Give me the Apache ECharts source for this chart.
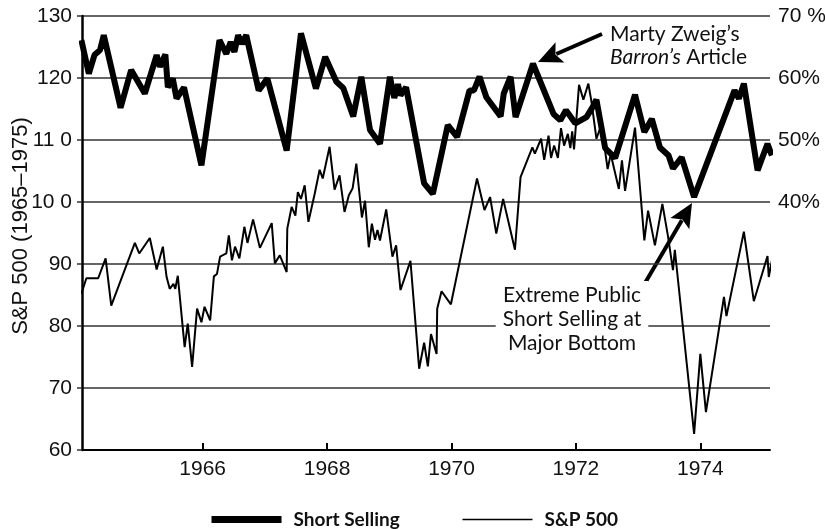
<!DOCTYPE html>
<html>
<head>
<meta charset="utf-8">
<script src="https://cdn.jsdelivr.net/npm/echarts@6/dist/echarts.min.js"></script>
<style>
  html, body { margin: 0; padding: 0; background: #fff; }
  #chart { width: 825px; height: 529px; }
</style>
</head>
<body>
<div id="chart"></div>
<script>
// short selling (right axis, %)
const shortYears = [1964.05, 1964.17, 1964.26, 1964.35, 1964.41, 1964.68, 1964.85, 1965.07, 1965.26, 1965.31,
  1965.40, 1965.44, 1965.52, 1965.58, 1965.70, 1965.98, 1966.27, 1966.38, 1966.45, 1966.51,
  1966.57, 1966.63, 1966.70, 1966.90, 1967.04, 1967.35, 1967.58, 1967.82, 1967.97, 1968.15,
  1968.26, 1968.42, 1968.55, 1968.69, 1968.85, 1969.01, 1969.08, 1969.14, 1969.18, 1969.27,
  1969.56, 1969.70, 1969.94, 1970.09, 1970.29, 1970.36, 1970.45, 1970.56, 1970.79, 1970.84,
  1970.95, 1971.03, 1971.31, 1971.64, 1971.75, 1971.84, 1971.99, 1972.17, 1972.28, 1972.33,
  1972.47, 1972.63, 1972.95, 1973.10, 1973.22, 1973.35, 1973.49, 1973.56, 1973.70, 1973.90,
  1974.55, 1974.62, 1974.70, 1974.92, 1975.08, 1975.15];
const shortPct = [66.1, 60.7, 63.7, 64.5, 66.9, 55.2, 61.3, 57.5, 63.7, 61.8,
  63.8, 58.5, 59.9, 56.7, 58.5, 45.9, 66.1, 63.9, 65.8, 64.2,
  66.9, 65.5, 66.9, 58.0, 59.9, 48.3, 67.2, 58.3, 63.4, 59.4,
  58.4, 53.8, 60.2, 51.6, 49.4, 60.2, 56.8, 59.0, 57.2, 58.5,
  43.0, 41.3, 52.4, 50.5, 58.0, 58.0, 60.2, 56.9, 53.8, 57.5,
  60.2, 53.7, 62.3, 54.2, 53.2, 54.8, 52.7, 53.7, 55.5, 56.5,
  48.7, 47.1, 57.3, 51.3, 53.4, 48.8, 47.5, 45.4, 47.2, 40.8,
  58.0, 56.7, 59.1, 45.1, 49.4, 47.5];

// S&P 500 (left axis)
const spxYears = [1964.05, 1964.13, 1964.32, 1964.44, 1964.53, 1964.91, 1964.98, 1965.15, 1965.26, 1965.36,
  1965.42, 1965.47, 1965.53, 1965.56, 1965.60, 1965.71, 1965.76, 1965.83, 1965.91, 1965.98,
  1966.03, 1966.12, 1966.18, 1966.23, 1966.28, 1966.38, 1966.42, 1966.47, 1966.52, 1966.59,
  1966.67, 1966.72, 1966.81, 1966.92, 1967.11, 1967.16, 1967.24, 1967.35, 1967.36, 1967.43,
  1967.49, 1967.53, 1967.58, 1967.64, 1967.70, 1967.80, 1967.88, 1967.93, 1968.04, 1968.12,
  1968.20, 1968.28, 1968.35, 1968.41, 1968.47, 1968.56, 1968.61, 1968.67, 1968.72, 1968.77,
  1968.81, 1968.85, 1968.95, 1969.05, 1969.11, 1969.18, 1969.34, 1969.48, 1969.56, 1969.62,
  1969.67, 1969.76, 1969.77, 1969.84, 1969.99, 1970.41, 1970.53, 1970.62, 1970.72, 1970.83,
  1971.02, 1971.11, 1971.30, 1971.34, 1971.44, 1971.49, 1971.56, 1971.60, 1971.65, 1971.71,
  1971.76, 1971.81, 1971.87, 1971.91, 1971.94, 1971.97, 1972.05, 1972.12, 1972.20, 1972.25,
  1972.33, 1972.41, 1972.51, 1972.56, 1972.69, 1972.74, 1972.79, 1972.95, 1973.10, 1973.16,
  1973.27, 1973.39, 1973.48, 1973.56, 1973.59, 1973.90, 1974.00, 1974.09, 1974.38, 1974.42,
  1974.70, 1974.86, 1975.08, 1975.10, 1975.18];
const spxValues = [85.2, 87.7, 87.7, 90.9, 83.3, 93.4, 91.7, 94.2, 89.1, 92.8,
  87.9, 86.0, 86.8, 86.0, 88.1, 76.6, 80.4, 73.4, 82.8, 80.6,
  83.1, 80.9, 88.0, 88.4, 91.2, 91.7, 94.6, 90.6, 92.8, 90.9,
  96.0, 93.4, 97.2, 92.6, 96.6, 90.1, 91.4, 88.7, 95.7, 99.2,
  97.8, 101.6, 100.5, 102.7, 96.8, 101.3, 105.2, 103.8, 108.9, 102.0,
  104.3, 98.4, 101.1, 102.2, 106.2, 97.5, 100.2, 92.7, 96.5, 93.9,
  95.5, 93.8, 98.8, 91.2, 93.0, 85.8, 90.5, 73.1, 77.3, 73.5,
  78.7, 75.5, 82.8, 85.6, 83.5, 103.8, 98.7, 100.8, 94.9, 100.5,
  92.3, 104.0, 108.8, 107.8, 110.2, 106.8, 110.7, 107.1, 109.1, 107.1,
  111.9, 109.1, 111.0, 108.7, 111.4, 108.5, 118.9, 116.5, 119.1, 116.2,
  110.2, 112.5, 105.3, 107.7, 102.1, 106.7, 101.8, 112.0, 93.8, 98.6,
  93.0, 99.7, 94.5, 89.0, 92.3, 62.6, 75.5, 66.1, 84.7, 81.6,
  95.2, 84.0, 91.3, 87.9, 92.1];

const yearTicks = [1966, 1968, 1970, 1972, 1974];
const pctTicks = [40, 50, 60, 70];

const axisFont = 'Liberation Sans, Arial, sans-serif';
const noteFont = 'Lato, Noto Sans, sans-serif';

function pairs(xs, ys) {
  return xs.map((x, i) => [x, ys[i]]);
}

// arrow made of a shaft and a filled head
function arrow(x1, y1, x2, y2) {
  const dx = x2 - x1, dy = y2 - y1;
  const len = Math.hypot(dx, dy);
  const ux = dx / len, uy = dy / len;
  const hl = 24, hw = 11;
  const bx = x2 - ux * hl, by = y2 - uy * hl;
  return [
    { type: 'line', shape: { x1: x1, y1: y1, x2: bx + ux * 4, y2: by + uy * 4 },
      style: { stroke: '#000', lineWidth: 4 } },
    { type: 'polygon',
      shape: { points: [[x2, y2], [bx - uy * hw, by + ux * hw], [bx + ux * 5, by + uy * 5], [bx + uy * hw, by - ux * hw]] },
      style: { fill: '#000' } }
  ];
}

const chart = echarts.init(document.getElementById('chart'));

chart.setOption({
  animation: false,
  backgroundColor: '#fff',
  grid: { left: 82, right: 55, top: 16, bottom: 79, containLabel: false, outerBoundsMode: 'none' },
  legend: {
    left: 208,
    top: 510,
    padding: 0,
    itemWidth: 70,
    itemHeight: 14,
    itemGap: 62,
    itemStyle: { opacity: 0 },
    textStyle: { fontFamily: noteFont, fontSize: 19, fontWeight: 'bold', color: '#111', padding: [0, 0, 0, 7] },
    data: [
      { name: 'Short Selling', lineStyle: { width: 7 } },
      { name: 'S&P 500', lineStyle: { width: 1.5 } }
    ]
  },
  xAxis: {
    type: 'value',
    min: 1964.06,
    max: 1975.12,
    splitLine: { show: false },
    axisLine: { lineStyle: { color: '#000', width: 2 } },
    axisTick: { inside: true, length: 7, customValues: yearTicks, lineStyle: { color: '#000', width: 2 } },
    axisLabel: {
      customValues: yearTicks,
      margin: 9,
      formatter: v => String(v),
      fontFamily: axisFont, fontSize: 21, color: '#111'
    }
  },
  yAxis: [
    {
      type: 'value',
      min: 60,
      max: 130,
      interval: 10,
      name: 'S&P 500 (1965–1975)',
      nameLocation: 'middle',
      nameRotate: 90,
      nameGap: 50,
      nameMoveOverlap: false,
      nameTextStyle: { fontFamily: axisFont, fontSize: 22, color: '#111', padding: [0, 0, 0, 14] },
      axisLine: { show: true, lineStyle: { color: '#000', width: 2.5 } },
      axisTick: { show: true, length: 5, lineStyle: { color: '#333', width: 1.5 } },
      splitLine: { lineStyle: { color: '#333', width: 1.5 } },
      axisLabel: {
        margin: 10,
        formatter: v => (v === 110 ? '11 0' : v === 100 ? '10 0' : String(v)),
        fontFamily: axisFont, fontSize: 21, color: '#111'
      }
    },
    {
      type: 'value',
      min: 0,
      max: 70,
      position: 'right',
      axisLine: { show: false },
      axisTick: { show: false },
      splitLine: { show: false },
      axisLabel: {
        customValues: pctTicks,
        margin: 8,
        formatter: v => (v === 70 ? '70 %' : v + '%'),
        fontFamily: axisFont, fontSize: 21, color: '#111'
      }
    }
  ],
  series: [
    {
      name: 'S&P 500',
      type: 'line',
      data: pairs(spxYears, spxValues),
      symbol: 'none',
      clip: false,
      lineStyle: { color: '#000', width: 2 },
      z: 2
    },
    {
      name: 'Short Selling',
      type: 'line',
      yAxisIndex: 1,
      data: pairs(shortYears, shortPct),
      symbol: 'none',
      clip: false,
      lineStyle: { color: '#000', width: 6, miterLimit: 2.5 },
      z: 3
    }
  ],
  graphic: [
    ...arrow(602, 34, 538, 62),
    ...arrow(645, 283, 692, 203),
    {
      type: 'text',
      x: 610,
      y: 23,
      style: {
        text: 'Marty Zweig’s\n{i|Barron’s} Article',
        fontFamily: noteFont,
        fontSize: 21,
        lineHeight: 23,
        fill: '#111',
        verticalAlign: 'top',
        rich: { i: { fontFamily: noteFont, fontSize: 21, fontStyle: 'italic', lineHeight: 23, fill: '#111' } }
      }
    },
    {
      type: 'text',
      x: 572,
      y: 319,
      z: 10,
      style: {
        text: 'Extreme Public\nShort Selling at\nMajor Bottom',
        fontFamily: noteFont,
        fontSize: 21,
        lineHeight: 24,
        fill: '#111',
        align: 'center',
        verticalAlign: 'middle',
        backgroundColor: '#fff',
        padding: [2, 7]
      }
    }
  ]
});
</script>
</body>
</html>
